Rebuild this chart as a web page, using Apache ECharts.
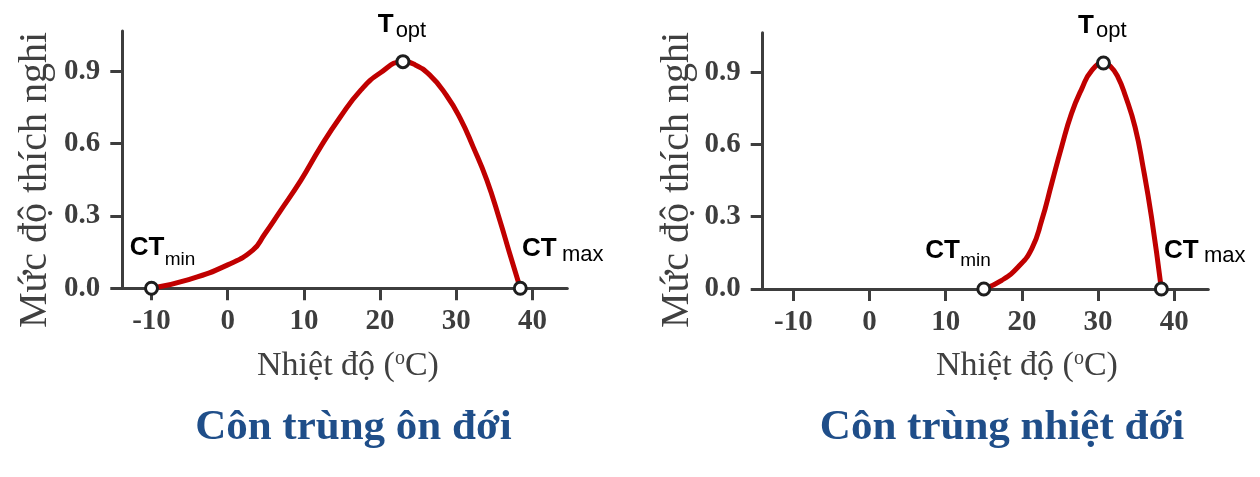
<!DOCTYPE html>
<html>
<head>
<meta charset="utf-8">
<script src="https://cdn.jsdelivr.net/npm/echarts@6/dist/echarts.min.js"></script>
<style>
html,body{margin:0;padding:0;background:#fff;}
#c{width:1260px;height:477px;}
</style>
</head>
<body>
<div id="c"></div>
<script>
// ---- data ----
const xTicks = [-10, 0, 10, 20, 30, 40];
const yTicks = [0, 0.3, 0.6, 0.9];

const temperateX = [-10, -5, 0, 3.3, 4.8, 6.9, 9.6, 12.2, 14.8, 17.5, 20, 23, 24.4, 26.5, 28.7, 30.5, 32.2, 34, 35.7, 37, 38.4];
const temperateY = [0, 0.037, 0.097, 0.158, 0.222, 0.32, 0.447, 0.586, 0.711, 0.822, 0.892, 0.939, 0.929, 0.884, 0.80, 0.705, 0.587, 0.449, 0.283, 0.145, 0];

const tropicalX = [15, 17.35, 19.5, 21.3, 22.6, 23.9, 25.2, 26.5, 27.85, 29.15, 30.7, 31.6, 32.6, 33.6, 34.85, 35.9, 37, 38.3];
const tropicalY = [0, 0.036, 0.091, 0.168, 0.285, 0.437, 0.589, 0.728, 0.831, 0.907, 0.938, 0.925, 0.88, 0.80, 0.672, 0.506, 0.299, 0];

// key points: CTmin, Topt, CTmax
const temperateKeyX = [-10, 23, 38.4];
const temperateKeyY = [0, 0.939, 0];
const tropicalKeyX = [15, 30.7, 38.3];
const tropicalKeyY = [0, 0.938, 0];

const keyMain = ['CT', 'T', 'CT'];
const keySub = ['min', 'opt', 'max'];
const titles = ['Côn trùng ôn đới', 'Côn trùng nhiệt đới'];
const yName = 'Mức độ thích nghi';
const xNameParts = ['Nhiệt độ (', 'o', 'C)'];

// ---- build ----
const zip = (xs, ys) => xs.map((x, i) => [x, ys[i]]);
const axisColor = '#3d3d3d';
const serif = 'Liberation Serif';
const sans = 'Liberation Sans';

function makeX(gridIndex, min, max) {
  return {
    type: 'value', gridIndex, min, max,
    axisLine: { show: true, onZero: false, lineStyle: { color: axisColor, width: 3 } },
    axisTick: { show: true, length: 12, lineStyle: { color: axisColor, width: 3 }, customValues: xTicks },
    axisLabel: { show: true, margin: 19, color: axisColor, fontFamily: serif, fontWeight: 'bold', fontSize: 29, customValues: xTicks, formatter: v => String(v) },
    splitLine: { show: false }
  };
}
function makeY(gridIndex, max) {
  return {
    type: 'value', gridIndex, min: 0, max,
    axisLine: { show: true, onZero: false, lineStyle: { color: axisColor, width: 3 } },
    axisTick: { show: true, length: 12, lineStyle: { color: axisColor, width: 3 }, customValues: yTicks },
    axisLabel: { show: true, margin: 22, color: axisColor, fontFamily: serif, fontWeight: 'bold', fontSize: 29, padding: [10, 0, 0, 0], customValues: yTicks, formatter: v => v.toFixed(1) },
    splitLine: { show: false }
  };
}

function lineSeries(idx, data) {
  return {
    type: 'line', xAxisIndex: idx, yAxisIndex: idx, data, smooth: 0.5,
    symbol: 'none', clip: false, z: 3,
    lineStyle: { color: '#c00000', width: 5 }
  };
}
function keySeries(idx, data) {
  return {
    type: 'scatter', xAxisIndex: idx, yAxisIndex: idx, data, clip: false, z: 5,
    symbol: 'circle', symbolSize: 12,
    itemStyle: { color: '#ffffff', borderColor: '#1e1e1e', borderWidth: 3, opacity: 1 }
  };
}

const xNameRich = {
  n: { fontFamily: serif, fontSize: 34, fill: '#404040', lineHeight: 34 },
  s: { fontFamily: serif, fontSize: 20, fill: '#404040', lineHeight: 24, verticalAlign: 'top' }
};
const xNameText = '{n|' + xNameParts[0] + '}{s|' + xNameParts[1] + '}{n|' + xNameParts[2] + '}';

const baseGraphic = [
  { type: 'text', x: 35, y: 180, rotation: Math.PI / 2, style: { text: yName, fontFamily: serif, fontSize: 40, fill: '#404040', align: 'center', verticalAlign: 'middle' } },
  { type: 'text', x: 677, y: 180, rotation: Math.PI / 2, style: { text: yName, fontFamily: serif, fontSize: 40, fill: '#404040', align: 'center', verticalAlign: 'middle' } },
  { type: 'text', x: 348, y: 366, style: { text: xNameText, rich: xNameRich, align: 'center', verticalAlign: 'middle' } },
  { type: 'text', x: 1027, y: 366, style: { text: xNameText, rich: xNameRich, align: 'center', verticalAlign: 'middle' } },
  { type: 'text', x: 353.4, y: 427.5, style: { text: titles[0], fontFamily: serif, fontWeight: 'bold', fontSize: 43, fill: '#1f4e89', align: 'center', verticalAlign: 'middle' } },
  { type: 'text', x: 1002, y: 427.5, style: { text: titles[1], fontFamily: serif, fontWeight: 'bold', fontSize: 43, fill: '#1f4e89', align: 'center', verticalAlign: 'middle' } }
];

const option = {
  backgroundColor: '#ffffff',
  animation: false,
  grid: [
    { left: 122.3, top: 31, width: 445, height: 257.3, containLabel: false, outerBoundsMode: 'none' },
    { left: 762.7, top: 32.7, width: 445.6, height: 256.3, containLabel: false, outerBoundsMode: 'none' }
  ],
  xAxis: [makeX(0, -13.83, 44.57), makeX(1, -14.02, 44.46)],
  yAxis: [makeY(0, 1.066), makeY(1, 1.064)],
  series: [
    lineSeries(0, zip(temperateX, temperateY)),
    keySeries(0, zip(temperateKeyX, temperateKeyY)),
    lineSeries(1, zip(tropicalX, tropicalY)),
    keySeries(1, zip(tropicalKeyX, tropicalKeyY))
  ],
  graphic: baseGraphic
};

const chart = echarts.init(document.getElementById('c'), null, { renderer: 'canvas' });
chart.setOption(option);

// key-point labels (main text + subscript), placed relative to the marker pixel
// offsets: [left x, baseline y] relative to the marker
const labelOffsets = [
  [{ main: [-21.7, -31.6], sub: [13.3, -22.3] }, { main: [-25.3, -28], sub: [-7.3, -23] }, { main: [1.7, -30.4], sub: [41.7, -26] }],
  [{ main: [-58.5, -29], sub: [-23.6, -21.6] }, { main: [-25.4, -28.3], sub: [-7.4, -24.3] }, { main: [2.6, -29], sub: [42.6, -25] }]
];
const mainSize = 26;
const subSizes = [19, 22, 22];
const mid = 0.3465;
const extra = [];
[[temperateKeyX, temperateKeyY], [tropicalKeyX, tropicalKeyY]].forEach(([xs, ys], g) => {
  xs.forEach((x, i) => {
    const p = chart.convertToPixel({ gridIndex: g }, [x, ys[i]]);
    const o = labelOffsets[g][i];
    extra.push({ type: 'text', z: 10, x: p[0] + o.main[0], y: p[1] + o.main[1] - mid * mainSize,
      style: { text: keyMain[i], fontFamily: sans, fontWeight: 'bold', fontSize: mainSize, fill: '#000', align: 'left', verticalAlign: 'middle' } });
    extra.push({ type: 'text', z: 10, x: p[0] + o.sub[0], y: p[1] + o.sub[1] - mid * subSizes[i],
      style: { text: keySub[i], fontFamily: sans, fontSize: subSizes[i], fill: '#000', align: 'left', verticalAlign: 'middle' } });
  });
});
chart.setOption({ graphic: baseGraphic.concat(extra) });
</script>
</body>
</html>
